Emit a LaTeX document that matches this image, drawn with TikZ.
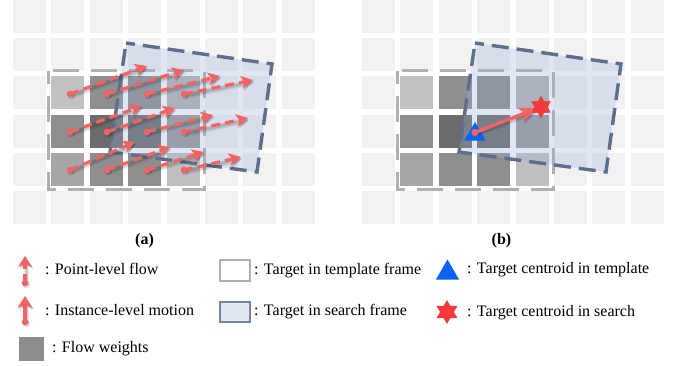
\documentclass[tikz,border=0pt]{standalone}
\usepackage{fontspec}
\setmainfont{Liberation Serif}
\usetikzlibrary{arrows.meta,shapes.geometric}
\definecolor{cellbg}{HTML}{F2F2F2}
\definecolor{tplgray}{HTML}{B0B0B0}
\definecolor{searchblue}{HTML}{9EB2D7}
\definecolor{searchedge}{HTML}{5E6E8C}
\definecolor{flowred}{HTML}{F26464}
\definecolor{starred}{HTML}{F23B3B}
\definecolor{triblue}{HTML}{0D62F5}
\definecolor{weightgray}{HTML}{8C8C8C}
\begin{document}
\begin{tikzpicture}[x=1pt,y=-1pt,
  font=\fontsize{16}{19}\selectfont,
  bgcell/.style={fill=cellbg},
  tplbox/.style={draw=tplgray, line width=3pt, dash pattern=on 26pt off 12pt, dash phase=13pt},
  searchfill/.style={fill=searchblue, fill opacity=0.3},
  searchborder/.style={draw=searchedge, line width=3.4pt, dash pattern=on 17pt off 8pt, dash phase=8pt},
  shadowed/.style={preaction={draw=black, opacity=0.08, line width=5.5pt, transform canvas={shift={(1.5,2)}}},
                   preaction={draw=black, opacity=0.12, line width=3.4pt, transform canvas={shift={(1.2,1.6)}}}},
  flowarrow/.style={shadowed, draw=flowred, line width=3.2pt, dash pattern=on 9pt off 5pt,
                    arrows={-Stealth[length=12pt,width=13pt,inset=3.5pt]}},
  instarrow/.style={shadowed, draw=flowred, line width=3.4pt,
                    arrows={-Stealth[length=19pt,width=15pt,inset=5.5pt]}},
  flowdot/.style={fill=flowred},
  legtext/.style={anchor=base west, inner sep=0pt},
  panellabel/.style={inner sep=0pt, font=\fontsize{16}{19}\selectfont\bfseries},
  tri/.style={regular polygon, regular polygon sides=3, fill=triblue, inner sep=0pt},
  starmark/.style={star, star points=6, star point ratio=1.73, fill=starred, inner sep=0pt}
]
\useasboundingbox (0,0) rectangle (681,366);
\fill[white] (0,0) rectangle (681,366);

% ---------- two panels: grid, weights, template box, search box ----------
\foreach \px in {0,349} {
  \begin{scope}[xshift=\px]
    \foreach \i in {0,...,7} {
      \foreach \j in {0,...,5} {
        \fill[bgcell] ({13+\i*38.4},{\j*38.2}) rectangle +(33,33);
      }
    }
    \foreach \i/\j/\col in {1/2/C2C2C2, 2/2/8F8F8F, 3/2/8A8A8A, 4/2/B3B3B3,
                            1/3/8E8E8E, 2/3/6C6C6C, 3/3/686868, 4/3/979797,
                            1/4/A6A6A6, 2/4/8E8E8E, 3/4/8E8E8E, 4/4/C0C0C0} {
      \definecolor{wcell}{HTML}{\col}
      \fill[fill=wcell] ({13+\i*38.4},{\j*38.2}) rectangle +(33,33);
    }
    \draw[tplbox] (48,71) rectangle (204,190);
    \fill[searchfill] (126,43) -- (272,64) -- (257,172) -- (110,152) -- cycle;
    \draw[searchborder] (126,43) -- (272,64) -- (257,172) -- (110,152) -- cycle;
  \end{scope}
}

% ---------- panel (a): point-level flow ----------
\foreach \sx/\sy/\ex/\ey in {70/94/147/66, 107/94/184/70, 147/94/220/76, 184/94/253/80,
                             70/132/142/106, 107/132/175/108, 147/132/213/115, 184/132/248/118,
                             70/170/135/142, 107/170/170/147, 147/170/204/152, 184/170/241/157} {
  \fill[black, opacity=0.15] (\sx+1.3,\sy+1.7) circle (3.6);
  \draw[flowarrow] (\sx,\sy) -- (\ex,\ey);
  \fill[flowdot] (\sx,\sy) circle (3.3);
}

% ---------- panel (b): instance-level motion ----------
\node[tri, minimum size=25pt] (tplc) at (475,134.5) {};
\coordinate (mstart) at (475,132.5);
\node[starmark, minimum size=22pt] (srchc) at (541,107) {};
\draw[instarrow] (mstart) -- ([xshift=-3pt,yshift=-1pt]srchc.center);
\fill[flowdot] (mstart) circle (3.6);
\node[starmark, minimum size=22pt] at (srchc) {};

% ---------- panel labels ----------
\node[panellabel] (la) at (144.5,241) {(a)};
\node[panellabel] (lb) at (501.5,241) {(b)};

% ---------- legend ----------
\coordinate (l1s) at (25,283);
\coordinate (l1e) at (25,256);
\fill[black, opacity=0.15] (26.3,284.7) circle (3.6);
\draw[flowarrow, arrows={-Stealth[length=11pt,width=14pt,inset=3.5pt]}] (l1s) -- (l1e);
\fill[flowdot] (l1s) circle (3.3);
\node[legtext] (t1) at (45,275) {: Point-level flow};

\coordinate (l2s) at (25,322);
\coordinate (l2e) at (25,296);
\fill[black, opacity=0.15] (26.3,323.7) circle (3.6);
\draw[instarrow, arrows={-Stealth[length=12pt,width=15pt,inset=3.5pt]}] (l2s) -- (l2e);
\fill[flowdot] (l2s) circle (3.3);
\node[legtext] (t2) at (45,316) {: Instance-level motion};

\node[fill=weightgray, minimum width=25pt, minimum height=24pt, inner sep=0pt, anchor=north west] (lw) at (19,337) {};
\node[legtext] (t3) at (52,353) {: Flow weights};

\node[draw=tplgray, fill=white, line width=2.5pt, minimum width=30pt, minimum height=21pt, inner sep=0pt] (lt) at (235,270.5) {};
\node[legtext] (t4) at (254,275) {: Target in template frame};

\node[draw=searchedge!85!white, fill=searchblue!30!white, line width=2.5pt, minimum width=30pt, minimum height=20pt, inner sep=0pt] (ls) at (235,312) {};
\node[legtext] (t5) at (254,316) {: Target in search frame};

\node[tri, minimum size=27pt] (ltri) at (447.5,273) {};
\node[legtext] (t6) at (467,274) {: Target centroid in template};

\node[starmark, minimum size=24pt] (lstar) at (447,312) {};
\node[legtext] (t7) at (467,317) {: Target centroid in search};
\end{tikzpicture}
\end{document}
